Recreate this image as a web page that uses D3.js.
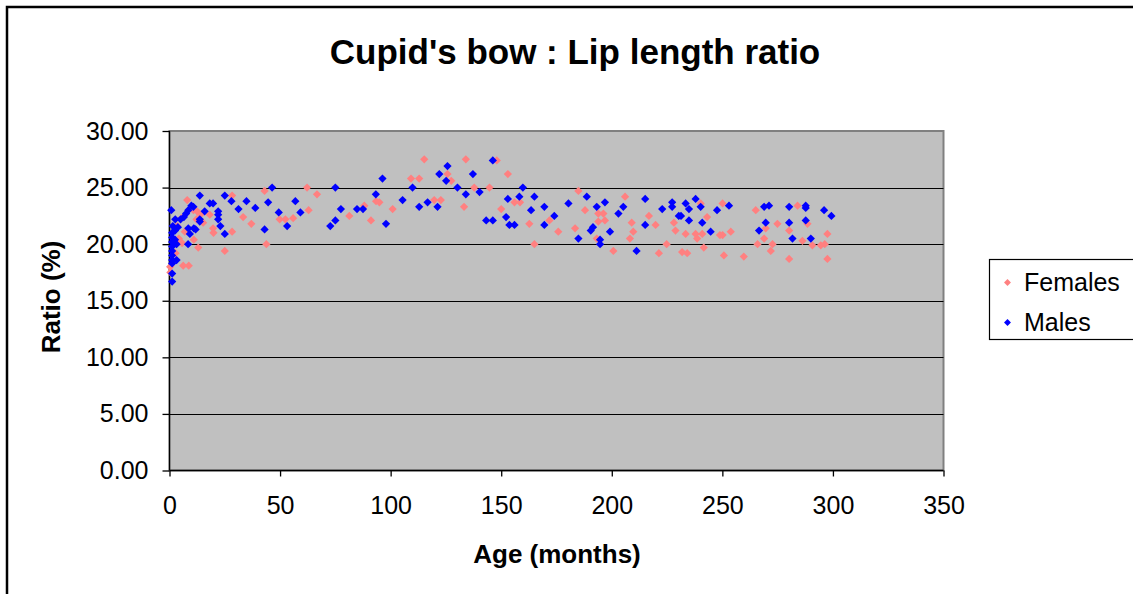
<!DOCTYPE html>
<html>
<head>
<meta charset="utf-8">
<script src="https://cdn.jsdelivr.net/npm/d3@7"></script>
<style>
  body { margin: 0; background: #fff; }
  svg { font-family: "Liberation Sans", Arial, sans-serif; }
</style>
</head>
<body>
<svg id="chart" width="1133" height="594"></svg>
<script>
// [age in months, ratio %]
const females = [
  [8,23.9],[10.8,23.0],[12.5,22.9],[15.2,21.9],[18.2,22.6],[19.7,21.4],[19.9,21.0],[28.3,21.1],[28.3,24.3],[25,19.4],
  [13,19.7],[11,20.4],[6.2,18.1],[8.7,18.1],[0.3,18.0],[0.4,17.5],[2.7,19.2],[5.7,20.1],[4.2,20.5],[3.5,21.6],
  [5.4,22.3],[12.2,22.2],[14,22.6],[6.9,21.1],[43,24.7],[62.2,25.0],[66.7,24.4],[62.9,23.0],[81.3,22.5],[33.3,22.4],
  [37,21.8],[49.8,22.2],[52.4,22.2],[55.9,22.3],[43.8,20.0],[88.1,23.4],[91.1,22.1],[93.4,23.8],[94.9,23.7],[100.9,23.1],
  [109.2,25.8],[112.9,25.8],[115.2,27.5],[119.7,23.9],[122.7,23.9],[125.7,26.2],[127.4,25.6],[134,27.5],[133.2,23.3],[137.8,25.0],
  [144.7,25.0],[148,27.4],[153,26.2],[150,23.1],[156,23.7],[158.5,23.7],[162.7,21.8],[165,20.0],[171.8,22.1],[175.8,21.1],
  [183.4,21.4],[184.9,24.7],[187.9,23.0],[193.9,22.7],[196.2,22.7],[193.9,22.0],[196.9,22.1],[193.2,20.5],[200.7,19.4],[206,24.2],
  [209,21.9],[209.7,21.1],[208.2,20.5],[216.8,22.5],[219.8,21.7],[224.8,20.0],[221.3,19.2],[228.1,21.9],[228.8,21.2],[231.8,19.3],
  [234.1,19.2],[233.4,20.9],[237.9,20.9],[238.6,20.5],[240.9,20.9],[241.6,19.7],[240.2,23.6],[243.1,22.4],[248.9,20.8],[250.1,23.6],
  [250.1,20.8],[253.8,21.1],[250.7,19.0],[259.7,18.9],[265.1,23.0],[269.6,21.4],[268.9,20.5],[265.9,20.0],[272.7,20.0],[271.9,19.4],
  [274.9,21.8],[280.2,21.2],[280.2,18.7],[284,23.4],[288.5,21.8],[286.2,20.3],[290.7,19.9],[294.5,19.9],[296.3,20.0],[297.5,20.9],
  [297.5,18.7]
];
const males = [
  [0.8,23.0],[2.6,22.2],[1.5,21.6],[2.5,21.2],[1.2,21.0],[3.8,21.5],[5,22.2],[6.5,22.4],[7.5,22.7],[8.5,23.0],
  [9.9,23.4],[10.8,23.3],[13.7,24.3],[13.7,22.2],[13.7,22.0],[8.5,21.4],[9.2,20.9],[11,21.4],[11.8,21.3],[1.2,20.6],
  [1.2,20.2],[1.2,19.8],[1.2,19.4],[3.2,20.0],[2.5,20.4],[1.2,19.0],[1.2,18.6],[1.2,18.3],[3.2,18.6],[1.2,17.4],
  [1.2,16.7],[8.4,20.0],[15.9,22.9],[18.2,23.6],[19.7,23.6],[22,22.9],[22,22.6],[22,22.2],[23,21.6],[25,20.9],
  [25,24.3],[28,23.8],[31.2,23.1],[34.8,23.8],[38.8,23.2],[43,21.3],[44.6,23.7],[46.4,25.0],[49.4,22.8],[53.2,21.6],
  [56.9,23.8],[59.2,22.8],[75,25.0],[77.5,23.1],[75,22.1],[72.7,21.6],[84.8,23.1],[87.5,23.1],[96.3,25.8],[93.3,24.4],
  [97.9,21.8],[105.4,23.9],[109.9,25.0],[112.9,23.3],[116.7,23.7],[121.2,23.3],[122,26.2],[125.7,26.9],[125.1,25.6],[130.2,25.0],
  [134,24.4],[137.2,26.2],[140.2,24.6],[143.2,22.1],[146.2,22.1],[146.2,27.4],[153,24.0],[152.2,22.4],[153.7,21.7],[156,21.7],
  [158.2,24.2],[159.8,25.0],[165,24.2],[163.5,23.0],[169.5,23.3],[169.5,21.7],[174,22.5],[180.4,23.6],[184.9,20.5],[188.7,24.2],
  [193.2,23.3],[196.9,23.7],[190.5,21.2],[191.5,21.5],[194.7,20.4],[194.7,20.0],[199.2,21.1],[203,22.7],[205.2,23.3],[211.2,19.4],
  [215.1,24.0],[215.1,21.7],[222.8,23.1],[227.3,23.7],[227.3,23.3],[230.3,22.5],[231.3,22.5],[233.4,23.6],[234.9,23.1],[234.9,22.1],
  [237.9,24.0],[240.2,23.3],[240.9,21.9],[244.7,21.1],[247.6,23.0],[253,23.4],[266.6,21.2],[269.6,21.9],[268.9,23.3],[271.1,23.4],
  [280.2,23.3],[280.2,21.9],[281.7,20.5],[287.7,23.4],[287.7,23.2],[287.7,22.1],[290,20.5],[296,23.0],[299.3,22.5]
];
const xTicks = [0, 50, 100, 150, 200, 250, 300, 350];
const yTicks = [0, 5, 10, 15, 20, 25, 30];
const seriesNames = ["Females", "Males"];
const seriesColors = ["#FF8080", "#0000FF"];

const svg = d3.select("#chart");

// outer chart border (runs past the window on right/bottom)
svg.append("rect")
  .attr("x", 7).attr("y", 7)
  .attr("width", 1140).attr("height", 600)
  .attr("fill", "none").attr("stroke", "#000").attr("stroke-width", 2.5);

const plot = { left: 169.5, top: 131, right: 943.5, bottom: 470.5 };

const x = d3.scaleLinear().domain([0, 350]).range([plot.left, plot.right]);
const y = d3.scaleLinear().domain([0, 30]).range([plot.bottom, plot.top]);

svg.append("rect")
  .attr("x", plot.left).attr("y", plot.top)
  .attr("width", plot.right - plot.left).attr("height", plot.bottom - plot.top)
  .attr("fill", "#C0C0C0").attr("stroke", "#808080").attr("stroke-width", 2);

// gridlines
svg.append("g")
  .selectAll("line")
  .data(yTicks.filter(d => d > 0 && d < 30))
  .join("line")
  .attr("x1", plot.left).attr("x2", plot.right)
  .attr("y1", d => Math.round(y(d)) + 0.5).attr("y2", d => Math.round(y(d)) + 0.5)
  .attr("stroke", "#000").attr("stroke-width", 1.2);

const xAxis = svg.append("g")
  .attr("transform", `translate(0,${plot.bottom})`)
  .call(d3.axisBottom(x).tickValues(xTicks).tickSize(6).tickPadding(20).tickFormat(d3.format("d")));
const yAxis = svg.append("g")
  .attr("transform", `translate(${plot.left},0)`)
  .call(d3.axisLeft(y).tickValues(yTicks).tickSize(7).tickPadding(14).tickFormat(d3.format(".2f")));

[xAxis, yAxis].forEach(a => {
  a.select(".domain").attr("stroke", "#000").attr("stroke-width", 1.3);
  a.selectAll(".tick line").attr("stroke", "#000").attr("stroke-width", 1.3);
  a.selectAll(".tick text").attr("fill", "#000").style("font-size", "25px")
    .style("font-family", "'Liberation Sans', Arial, sans-serif");
});
xAxis.select(".domain").attr("d", `M${plot.left},0H${plot.right}`);
yAxis.select(".domain").attr("d", `M0,${plot.top}V${plot.bottom}`);

// markers
const diamond = d3.symbol().type(d3.symbolSquare).size(34);
[females, males].forEach((data, i) => {
  svg.append("g")
    .selectAll("path")
    .data(data)
    .join("path")
    .attr("d", diamond)
    .attr("transform", d => `translate(${x(d[0])},${y(d[1])}) rotate(45)`)
    .attr("fill", seriesColors[i]);
});

// titles
svg.append("text")
  .attr("x", 575).attr("y", 64)
  .attr("text-anchor", "middle")
  .style("font-size", "35px").style("font-weight", "bold")
  .text("Cupid's bow : Lip length ratio");

svg.append("text")
  .attr("x", 557).attr("y", 563)
  .attr("text-anchor", "middle")
  .style("font-size", "26px").style("font-weight", "bold")
  .text("Age (months)");

svg.append("text")
  .attr("transform", "translate(60,297) rotate(-90)")
  .attr("text-anchor", "middle")
  .style("font-size", "26px").style("font-weight", "bold")
  .text("Ratio (%)");

// legend
const legend = svg.append("g");
legend.append("rect")
  .attr("x", 989.5).attr("y", 259.5)
  .attr("width", 160).attr("height", 80)
  .attr("fill", "#fff").attr("stroke", "#000").attr("stroke-width", 1.2);

seriesNames.forEach((name, i) => {
  const cy = 282.5 + i * 40;
  legend.append("path")
    .attr("d", d3.symbol().type(d3.symbolSquare).size(24))
    .attr("transform", `translate(1007.5,${cy}) rotate(45)`)
    .attr("fill", seriesColors[i]);
  legend.append("text")
    .attr("x", 1024).attr("y", cy + 8.5)
    .style("font-size", "25px")
    .text(name);
});
</script>
</body>
</html>
